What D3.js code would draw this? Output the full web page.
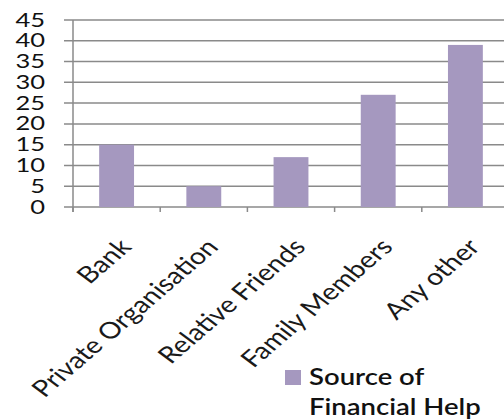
<!DOCTYPE html>
<html><head><meta charset="utf-8">
<script src="https://cdn.jsdelivr.net/npm/d3@7/dist/d3.min.js"></script>
<style>body{margin:0;background:#fff}svg{display:block}</style>
</head><body>
<script>
const categories = ["Bank","Private Organisation","Relative Friends","Family Members","Any other"];
const values = [15, 5, 12, 27, 39];
const yTicks = [0,5,10,15,20,25,30,35,40,45];
const seriesName = ["Source of", "Financial Help"];

const W = 504, H = 419;
const svg = d3.select("body").append("svg").attr("width", W).attr("height", H);
const x0 = 73, step = 87.2;
const x = d3.scaleBand().domain(categories).range([x0, x0 + step*categories.length]).paddingInner(0.6).paddingOuter(0.3);
const y = d3.scaleLinear().domain([0,45]).range([207,20]);
const grid = "#8a8a8a";
const sx = 1.25; // horizontal stretch of the text

// gridlines
svg.append("g").selectAll("line").data(yTicks).join("line")
  .attr("x1", 64).attr("x2", W).attr("y1", d=>y(d)).attr("y2", d=>y(d))
  .attr("stroke", grid).attr("stroke-width", 1.5);
// y axis line
svg.append("line").attr("x1", x0).attr("x2", x0).attr("y1", y(45)).attr("y2", y(0)+5)
  .attr("stroke", grid).attr("stroke-width", 1.5);
// category ticks
const bounds = d3.range(categories.length).map(i => x0 + step*i);
svg.append("g").selectAll("line").data(bounds).join("line")
  .attr("x1", d=>d).attr("x2", d=>d).attr("y1", y(0)).attr("y2", y(0)+5)
  .attr("stroke", grid).attr("stroke-width", 1.5);

// bars
svg.append("g").selectAll("rect").data(values).join("rect")
  .attr("x", (d,i)=>x(categories[i])).attr("width", x.bandwidth())
  .attr("y", d=>y(d)).attr("height", d=>y(0)-y(d))
  .attr("fill", "#a598bf");

// y labels
svg.append("g").selectAll("text").data(yTicks).join("text")
  .attr("transform", d=>`translate(45,${y(d)+6.5}) scale(1.38,1)`)
  .attr("text-anchor","end")
  .attr("font-family","Lato").attr("font-size",18.5).attr("fill","#111")
  .text(d=>d);

// x labels
svg.append("g").selectAll("text").data(categories).join("text")
  .attr("transform", d=>`translate(${x(d)+x.bandwidth()/2+16},248) scale(${sx},1) rotate(-47)`)
  .attr("text-anchor","end")
  .attr("font-family","Lato").attr("font-size",23).attr("fill","#1a1a1a")
  .text(d=>d);

// legend
svg.append("rect").attr("x",285).attr("y",370).attr("width",16).attr("height",15).attr("fill","#a598bf");
svg.append("g").selectAll("text").data(seriesName).join("text")
  .attr("transform",(d,i)=>`translate(309,${385+i*30}) scale(${sx},1)`)
  .attr("font-family","Lato").attr("font-weight",600).attr("font-size",22).attr("fill","#111")
  .text(d=>d);
</script>
</body></html>
